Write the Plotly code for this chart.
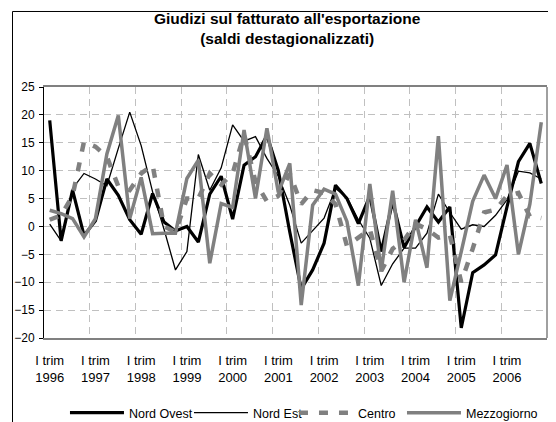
import plotly.graph_objects as go

# ---- data (quarterly, I trim 1996 .. IV trim 2006) ----
tick_trim = ["I trim"] * 11
tick_years = ["1996", "1997", "1998", "1999", "2000", "2001",
              "2002", "2003", "2004", "2005", "2006"]

nord_ovest = [19.0, -2.6, 6.5, -1.6, 1.0, 8.5, 5.6, 1.2,
              -1.4, 5.9, 0.8, -0.8, 0.0, -2.8, 5.8, 9.0,
              1.3, 11.0, 12.5, 16.3, 10.0, -1.0, -11.2, -7.8,
              -3.0, 7.4, 5.0, 0.5, 5.5, -4.5, 4.5, -3.8,
              0.0, 3.5, 0.8, 3.5, -18.2, -8.3, -6.9, -5.1,
              3.5, 11.6, 14.9, 7.7]

nord_est = [0.4, -2.6, 6.8, 9.5, 8.5, 7.3, 14.0, 20.5,
            14.5, 6.2, -0.5, -7.8, -4.5, 12.9, 6.5, 10.5,
            18.2, 15.3, 16.1, 12.2, 9.0, 3.8, -3.0, -0.7,
            1.5, 6.8, 5.2, 1.2, -2.1, -10.6, -6.7, -3.9,
            -3.9, -1.2, 5.8, 2.5, -0.5, 0.3, 0.0, 2.0,
            4.8, 9.9, 9.6, 8.5]

centro = [1.2, 2.0, 5.5, 15.2, 14.3, 12.5, 7.2, 6.5,
          9.5, 11.0, 0.0, -1.0, 5.0, 5.0, 9.5, 7.5,
          9.5, 16.5, 8.0, 4.5, 5.5, 9.5, 4.0, 6.5,
          6.0, 4.0, -3.5, -2.0, -0.5, -8.0, -4.0, -2.5,
          0.5, -0.5, -2.0, -1.5, -10.0, -4.0, 2.5, 3.0,
          5.5, 6.0, 1.8, 1.5]

mezzogiorno = [2.9, 2.3, 1.4, -1.9, 1.4, 13.0, 19.9, 1.4,
               8.8, -1.3, -1.2, -1.2, 8.6, 11.9, -6.6, 4.1,
               3.4, 17.3, 5.0, 17.6, 6.1, 11.3, -14.1, 3.8,
               6.7, 5.8, 0.9, -10.6, 7.6, -7.9, 6.4, -10.0,
               1.2, -7.4, 16.2, -13.3, -4.5, 4.5, 9.2, 5.0,
               11.0, -5.0, 4.0, 18.7]

y_ticks = [-20, -15, -10, -5, 0, 5, 10, 15, 20, 25]

# ---- positions derived from the data ----
x = list(range(len(nord_ovest)))
tick_pos = x[::4]
boundaries = [p - 0.5 for p in tick_pos[1:]]
x_range = [-0.5, len(x) - 0.5]

FONT = "Liberation Sans, Arial, sans-serif"
GRAY = "#808080"
GRID = "#c0c0c0"

fig = go.Figure()
fig.add_trace(go.Scatter(x=x, y=nord_ovest, name="Nord Ovest", mode="lines",
                         line=dict(color="black", width=3.2), legendwidth=55))
fig.add_trace(go.Scatter(x=x, y=nord_est, name="Nord Est", mode="lines",
                         line=dict(color="black", width=1.3), legendwidth=36))
fig.add_trace(go.Scatter(x=x, y=centro, name="Centro", mode="lines",
                         line=dict(color=GRAY, width=4.5, dash="9px,11px"), legendwidth=39))
fig.add_trace(go.Scatter(x=x, y=mezzogiorno, name="Mezzogiorno", mode="lines",
                         line=dict(color=GRAY, width=3.5), legendwidth=72))
# carrier for the second (year) label row of the category axis
fig.add_trace(go.Scatter(x=[None], y=[None], xaxis="x2", showlegend=False,
                         hoverinfo="skip", mode="lines"))

# page body adds an 8px offset, so the figure is 8px smaller than the window
fig.update_layout(
    width=548, height=414,
    margin=dict(l=36, r=9, t=79, b=84, autoexpand=False),
    paper_bgcolor="white", plot_bgcolor="white",
    font=dict(family=FONT, color="black"),
    showlegend=True,
    legend=dict(orientation="h", x=0.0417, xanchor="left", y=-0.299, yanchor="middle",
                font=dict(size=12.5, family=FONT), itemwidth=54,
                bgcolor="rgba(0,0,0,0)", tracegroupgap=0),
    xaxis=dict(range=x_range, tickmode="array", tickvals=tick_pos, ticktext=tick_trim,
               showgrid=False, zeroline=False, showline=True, linecolor=GRAY,
               linewidth=1.5, mirror=True, ticks="", tickfont=dict(size=13),
               ticklabelstandoff=10,
               minor=dict(tickvals=boundaries, showgrid=True, gridcolor=GRID,
                          griddash="7px,5px", gridwidth=1, ticks="")),
    xaxis2=dict(overlaying="x", anchor="y", side="bottom", range=x_range,
                tickmode="array", tickvals=tick_pos, ticktext=tick_years,
                showgrid=False, zeroline=False, showline=False, ticks="",
                tickfont=dict(size=13), ticklabelstandoff=30),
    yaxis=dict(range=[-20, 25], tickmode="array", tickvals=y_ticks,
               showgrid=True, gridcolor=GRID, griddash="7px,5px", gridwidth=1,
               zeroline=False, showline=True, linecolor="black", linewidth=1,
               ticks="outside", ticklen=4, tickcolor="black",
               tickfont=dict(size=12), ticklabelstandoff=2),
    shapes=[
        dict(type="line", xref="paper", yref="paper", x0=1, x1=1, y0=0, y1=1,
             line=dict(color=GRAY, width=1.5)),
        dict(type="line", xref="paper", yref="paper", x0=-0.0626, x1=-0.0626,
             y0=1.3008, y1=-0.34, line=dict(color="black", width=1)),
        dict(type="line", xref="paper", yref="paper", x0=-0.0626, x1=1.02,
             y0=1.3008, y1=1.3008, line=dict(color="black", width=1)),
    ],
    annotations=[
        dict(text="<b>Giudizi sul fatturato all'esportazione</b><br><b>(saldi destagionalizzati)</b>",
             xref="paper", yref="paper", x=0.484, y=1.235, xanchor="center", yanchor="middle",
             showarrow=False, font=dict(size=15.5, family=FONT)),
    ],
)

fig.write_html("out.html")
